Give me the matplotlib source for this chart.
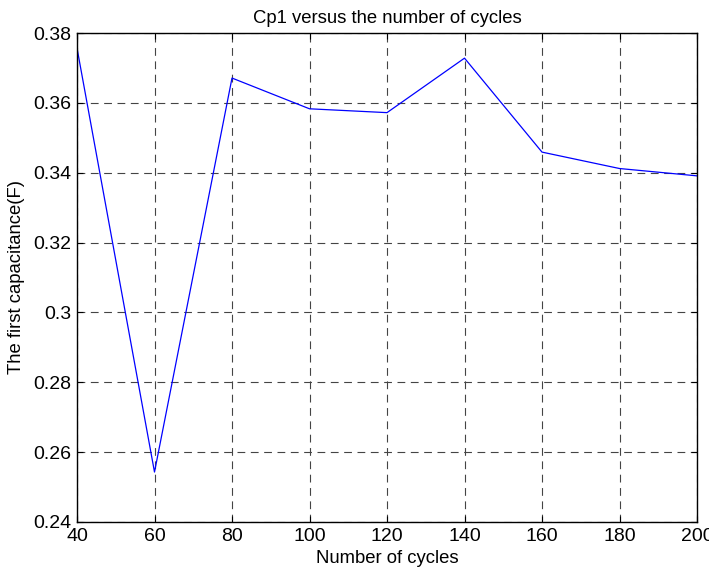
import numpy as np
import matplotlib.pyplot as plt

plt.rcParams['font.family'] = ['Liberation Sans', 'DejaVu Sans']

cycles = [40, 60, 80, 100, 120, 140, 160, 180, 200]
cp1 = [0.3757, 0.2543, 0.3671, 0.3583, 0.3572, 0.3728, 0.3459, 0.3412, 0.3391]

xticks = np.arange(40, 201, 20)
yticks = [0.24, 0.26, 0.28, 0.30, 0.32, 0.34, 0.36, 0.38]
yticklabels = ['0.24', '0.26', '0.28', '0.3', '0.32', '0.34', '0.36', '0.38']

fig = plt.figure(figsize=(7.09, 5.71), dpi=100)
ax = fig.add_axes([77 / 709, 1 - 522 / 571, 620 / 709, 489 / 571])

ax.plot(cycles, cp1, color='blue', lw=0.9)

ax.set_xlim(40, 200)
ax.set_ylim(0.24, 0.38)
ax.set_xticks(xticks)
ax.set_yticks(yticks)
ax.set_yticklabels(yticklabels)
ax.tick_params(direction='in', top=True, right=True, length=4, width=0.8,
               labelsize=14, pad=4)
for s in ax.spines.values():
    s.set_linewidth(1.0)

ax.grid(True, color='#444444', linestyle=(0, (7, 5)), linewidth=0.8)

ax.set_title('Cp1 versus the number of cycles', fontsize=13.3, pad=7)
ax.set_xlabel('Number of cycles', fontsize=13.3, labelpad=4)
ax.set_ylabel('The first capacitance(F)', fontsize=13.3, labelpad=6)

fig.savefig('out.png', dpi=100)
